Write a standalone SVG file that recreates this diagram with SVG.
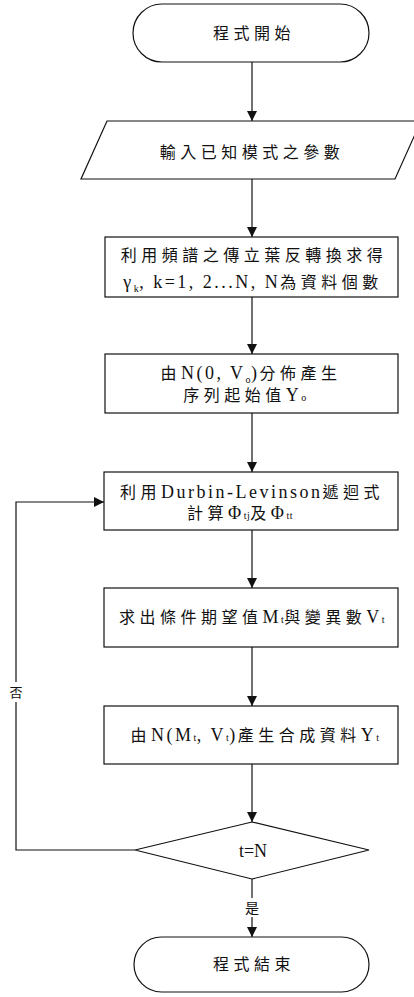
<svg xmlns="http://www.w3.org/2000/svg" width="414" height="997" viewBox="0 0 414 997">
<style>
.s{fill:#fff;stroke:#111;stroke-width:1.2}
.t{font-family:"Liberation Serif","Noto Sans CJK TC",serif;font-size:16px;fill:#111;text-anchor:middle}
.cj{letter-spacing:4.5px}
.la{font-size:18px;letter-spacing:2.5px}
.sub{font-size:10px;letter-spacing:0.5px}
.c{fill:none;stroke:#111;stroke-width:1.2}
</style>
<defs>
<marker id="ah" markerWidth="10" markerHeight="10" refX="10" refY="5" orient="auto" markerUnits="userSpaceOnUse">
<path d="M0,0 L10,5 L0,10 Z" fill="#111"/>
</marker>
</defs>
<rect width="414" height="997" fill="#fff"/>
<g id="connectors">
<line class="c" x1="252" y1="62" x2="252" y2="121" marker-end="url(#ah)"/>
<line class="c" x1="252" y1="179" x2="252" y2="237" marker-end="url(#ah)"/>
<line class="c" x1="252" y1="297" x2="252" y2="354" marker-end="url(#ah)"/>
<line class="c" x1="252" y1="413" x2="252" y2="472" marker-end="url(#ah)"/>
<line class="c" x1="252" y1="530" x2="252" y2="588" marker-end="url(#ah)"/>
<line class="c" x1="252" y1="647" x2="252" y2="706" marker-end="url(#ah)"/>
<line class="c" x1="252" y1="764" x2="252" y2="822" marker-end="url(#ah)"/>
<line class="c" x1="252" y1="879" x2="252" y2="898"/>
<line class="c" x1="252" y1="917" x2="252" y2="937" marker-end="url(#ah)"/>
<polyline class="c" points="135,850 16,850 16,702"/>
<polyline class="c" points="16,682 16,502 104,502" marker-end="url(#ah)"/>
<text class="t" x="252" y="913" style="font-size:14px">是</text>
<text class="t" x="16" y="697" style="font-size:13px">否</text>
</g>
<g id="start">
<rect class="s" x="133" y="4" width="236" height="58" rx="29"/>
<text class="t cj" x="254" y="39">程式開始</text>
</g>
<g id="input">
<polygon class="s" points="107,121 421,121 395,179 81,179"/>
<text class="t cj" x="252" y="158">輸入已知模式之參數</text>
</g>
<g id="fft">
<rect class="s" x="105" y="237" width="293" height="60"/>
<text class="t cj" x="254" y="261">利用頻譜之傳立葉反轉換求得</text>
<text class="t" x="253" y="288"><tspan class="la">γ</tspan><tspan class="sub" dy="4">k</tspan><tspan class="la" dy="-4">, k=1, 2...N,  N</tspan><tspan class="cj">為資料個數</tspan></text>
</g>
<g id="init">
<rect class="s" x="105" y="354" width="293" height="59"/>
<text class="t" x="251" y="379"><tspan class="cj">由</tspan><tspan class="la">N(0, V</tspan><tspan class="sub" dy="4">o</tspan><tspan class="la" dy="-4">)</tspan><tspan class="cj">分佈產生</tspan></text>
<text class="t" x="245" y="401"><tspan class="cj">序列起始值</tspan><tspan class="la">Y</tspan><tspan class="sub">o</tspan></text>
</g>
<g id="durbin">
<rect class="s" x="104" y="472" width="294" height="58"/>
<text class="t" x="252" y="498"><tspan class="cj">利用</tspan><tspan class="la">Durbin-Levinson</tspan><tspan class="cj">遞迴式</tspan></text>
<text class="t" x="240" y="519"><tspan class="cj">計算</tspan><tspan class="la">Φ</tspan><tspan class="sub">tj</tspan><tspan class="cj">及</tspan><tspan class="la">Φ</tspan><tspan class="sub">tt</tspan></text>
</g>
<g id="cond">
<rect class="s" x="104" y="588" width="294" height="59"/>
<text class="t" x="252" y="623"><tspan class="cj">求出條件期望值</tspan><tspan class="la">M</tspan><tspan class="sub">t</tspan><tspan class="cj">與變異數</tspan><tspan class="la">V</tspan><tspan class="sub">t</tspan></text>
</g>
<g id="gen">
<rect class="s" x="104" y="706" width="294" height="58"/>
<text class="t" x="255" y="741"><tspan class="cj">由</tspan><tspan class="la">N(M</tspan><tspan class="sub">t</tspan><tspan class="la">, V</tspan><tspan class="sub">t</tspan><tspan class="la">)</tspan><tspan class="cj">產生合成資料</tspan><tspan class="la">Y</tspan><tspan class="sub">t</tspan></text>
</g>
<g id="decision">
<polygon class="s" points="252,822 369,850 252,879 135,850"/>
<text class="t" x="253" y="857" style="font-size:18px">t=N</text>
</g>
<g id="end">
<rect class="s" x="134" y="937" width="235" height="55" rx="27.5"/>
<text class="t cj" x="254" y="970">程式結束</text>
</g>
</svg>
